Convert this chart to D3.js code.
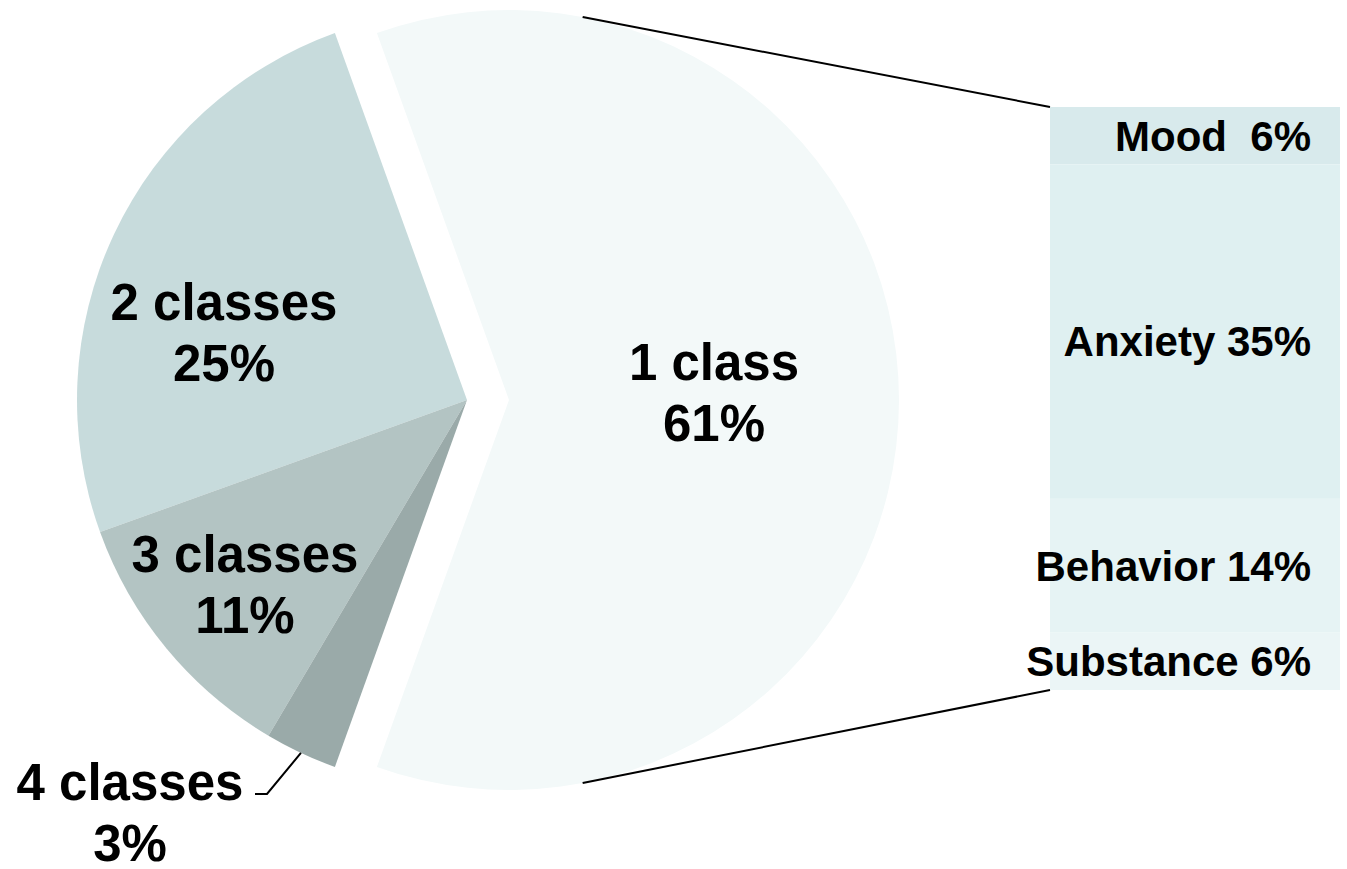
<!DOCTYPE html>
<html lang="en">
<head>
  <meta charset="UTF-8" />
  <title>Classes pie with breakdown</title>
  <script src="https://d3js.org/d3.v7.min.js"></script>
  <style>
    body { margin: 0; background: #fff; }
    svg text { font-family: "Liberation Sans", Arial, sans-serif; font-weight: bold; fill: #000; }
  </style>
</head>
<body>
  <svg id="chart" width="1347" height="869"></svg>
  <script>
    // pie data
    const pieLabels = ["1 class", "2 classes", "3 classes", "4 classes"];
    const pieValues = [61, 25, 11, 3];
    const pieColors = ["#f3f9f9", "#c7dbdc", "#b3c4c3", "#9aaaa9"];

    // breakdown of "1 class"
    const barLabels = ["Mood", "Anxiety", "Behavior", "Substance"];
    const barValues = [6, 35, 14, 6];
    const barColors = ["#d8eaec", "#dff0f1", "#e6f3f4", "#ebf5f6"];

    const svg = d3.select("#chart");
    const cx = 467, cy = 400, r = 390, explode = 42;

    // 1 class centred on the right, the rest going counter-clockwise
    const span = Math.PI * 2 * pieValues[0] / d3.sum(pieValues);
    const start = Math.PI / 2 + span / 2;
    const pie = d3.pie().sort(null).value(d => d.value)
      .startAngle(start).endAngle(start - Math.PI * 2);
    const arcs = pie(pieLabels.map((l, i) => ({ label: l, value: pieValues[i], i })));
    const arc = d3.arc().innerRadius(0).outerRadius(r);

    const g = svg.append("g").attr("transform", `translate(${cx},${cy})`);
    g.selectAll("path")
      .data(arcs)
      .join("path")
      .attr("d", arc)
      .attr("fill", d => pieColors[d.data.i])
      .attr("transform", d => d.data.i === 0 ? `translate(${explode},0)` : null);

    // pie labels
    const labelPos = [[714, 380], [224, 320], [245, 572], [130, 800]];
    arcs.forEach(d => {
      const [x, y] = labelPos[d.data.i];
      const t = svg.append("text").attr("text-anchor", "middle").style("font-size", "51px");
      t.append("tspan").attr("x", x).attr("y", y).text(d.data.label);
      t.append("tspan").attr("x", x).attr("y", y + 61).text(d.data.value + "%");
    });

    // leader for 4 classes
    const a4 = arcs[3];
    const mid4 = (a4.startAngle + a4.endAngle) / 2;
    const p4 = [cx + r * Math.sin(mid4), cy - r * Math.cos(mid4)];
    svg.append("path")
      .attr("d", `M${p4[0]},${p4[1]}L267,794L255,794`)
      .attr("fill", "none").attr("stroke", "#000").attr("stroke-width", 2);

    // stacked bar
    const barX = 1050, barW = 290;
    const y = d3.scaleLinear().domain([0, d3.sum(barValues)]).range([107, 690]);
    const cum = d3.cumsum([0].concat(barValues));
    svg.selectAll("rect.seg")
      .data(barValues)
      .join("rect")
      .attr("class", "seg")
      .attr("x", barX)
      .attr("y", (d, i) => y(cum[i]))
      .attr("width", barW)
      .attr("height", d => y(d) - y(0))
      .attr("fill", (d, i) => barColors[i]);

    const labelDy = [0, 9, 0, 0];
    svg.selectAll("text.seg")
      .data(barValues)
      .join("text")
      .attr("class", "seg")
      .attr("x", 1311)
      .attr("y", (d, i) => (y(cum[i]) + y(cum[i + 1])) / 2 + labelDy[i])
      .attr("dy", "0.36em")
      .attr("text-anchor", "end")
      .attr("xml:space", "preserve")
      .style("white-space", "pre")
      .style("font-size", "42px")
      .text((d, i) => barLabels[i] + (i === 0 ? "  " : " ") + d + "%");

    // connector lines from the exploded slice to the bar
    const ex = cx + explode, ca = 0.19;
    const lines = [
      [[ex + r * Math.sin(ca), cy - r * Math.cos(ca)], [barX, y(0)]],
      [[ex + r * Math.sin(Math.PI - ca), cy - r * Math.cos(Math.PI - ca)], [barX, y(d3.sum(barValues))]]
    ];
    svg.selectAll("line.conn")
      .data(lines)
      .join("line")
      .attr("class", "conn")
      .attr("x1", d => d[0][0]).attr("y1", d => d[0][1])
      .attr("x2", d => d[1][0]).attr("y2", d => d[1][1])
      .attr("stroke", "#000").attr("stroke-width", 2);
  </script>
</body>
</html>
